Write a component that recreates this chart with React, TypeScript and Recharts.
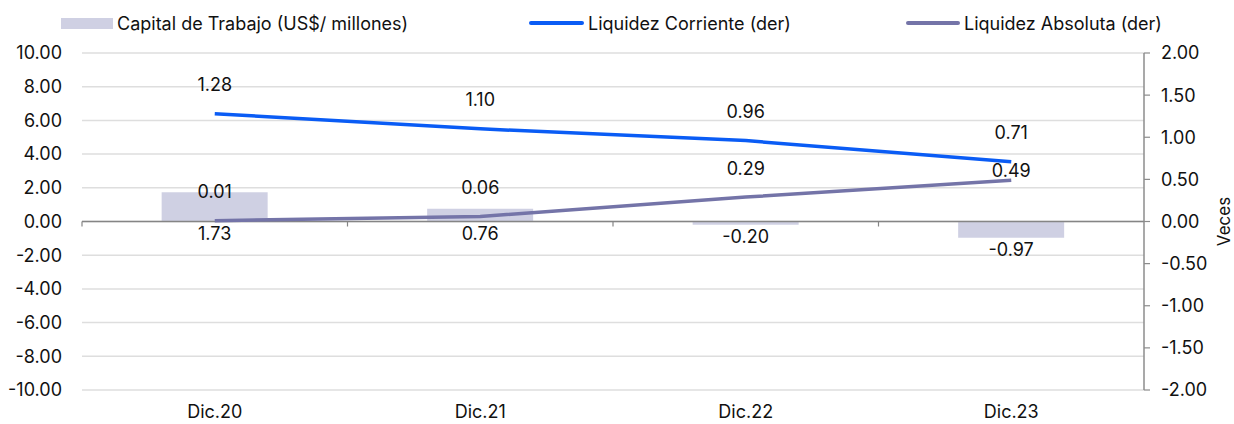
import React from "react";
import {
  ComposedChart,
  Bar,
  Line,
  XAxis,
  YAxis,
  CartesianGrid,
  Legend,
  LabelList,
  ReferenceLine,
} from "recharts";

const categories = ["Dic.20", "Dic.21", "Dic.22", "Dic.23"];
const capitalTrabajo = [1.73, 0.76, -0.2, -0.97];
const liquidezCorriente = [1.28, 1.1, 0.96, 0.71];
const liquidezAbsoluta = [0.01, 0.06, 0.29, 0.49];
const leftTicks = [-10, -8, -6, -4, -2, 0, 2, 4, 6, 8, 10];
const rightTicks = [-2, -1.5, -1, -0.5, 0, 0.5, 1, 1.5, 2];

const FONT = "Inter, 'Liberation Sans', Arial, sans-serif";
const FS = 18;
const BAR_COLOR = "#cfd0e3";
const CORRIENTE_COLOR = "#0a5cf5";
const ABSOLUTA_COLOR = "#7474a8";

const data = categories.map((c, i) => ({
  name: c,
  capital: capitalTrabajo[i],
  corriente: liquidezCorriente[i],
  absoluta: liquidezAbsoluta[i],
}));

const fmt = (v: number) => v.toFixed(2);

function BarValueLabel(props: any) {
  const { x, y, width, height, value } = props;
  const bottom = Math.max(y, y + height);
  return (
    <text
      x={x + width / 2}
      y={bottom + 12}
      textAnchor="middle"
      dominantBaseline="central"
      fontSize={FS}
      fontFamily={FONT}
      fill="#111"
    >
      {fmt(value)}
    </text>
  );
}

function makeLineLabel(special?: (i: number) => number | undefined) {
  return (props: any) => {
    const { x, y, value, index } = props;
    const off = (special && special(index)) ?? 29;
    return (
      <text
        x={x}
        y={y - off}
        textAnchor="middle"
        dominantBaseline="central"
        fontSize={FS}
        fontFamily={FONT}
        fill="#111"
      >
        {fmt(value)}
      </text>
    );
  };
}

function ZeroAxis(props: any) {
  const x1 = props.x1 ?? 0;
  const x2 = props.x2 ?? 0;
  const y = props.y1 ?? 0;
  const step = (x2 - x1) / categories.length;
  const ticks = categories.map((_, i) => x1 + i * step);
  return (
    <g>
      <line x1={x1} y1={y} x2={x2} y2={y} stroke="#858585" strokeWidth={1.5} />
      {ticks.map((tx, i) => (
        <line key={i} x1={tx} y1={y} x2={tx} y2={y + 5} stroke="#858585" strokeWidth={1.2} />
      ))}
    </g>
  );
}

function LegendContent() {
  const item = (left: number, swatch: React.ReactNode, text: string) => (
    <div
      style={{
        position: "absolute",
        left,
        top: 0,
        display: "flex",
        alignItems: "center",
        height: 20,
        whiteSpace: "nowrap",
      }}
    >
      {swatch}
      <span style={{ marginLeft: 4 }}>{text}</span>
    </div>
  );
  return (
    <div
      style={{
        position: "relative",
        height: 40,
        width: 1234,
        fontFamily: FONT,
        fontSize: FS,
        color: "#111",
      }}
    >
      {item(61, <div style={{ width: 52, height: 11, background: BAR_COLOR }} />, "Capital de Trabajo (US$/ millones)")}
      {item(529, <div style={{ width: 55, height: 4, borderRadius: 2, background: CORRIENTE_COLOR }} />, "Liquidez Corriente (der)")}
      {item(906, <div style={{ width: 54, height: 4, borderRadius: 2, background: ABSOLUTA_COLOR }} />, "Liquidez Absoluta (der)")}
    </div>
  );
}

export default function App() {
  return (
    <div style={{ position: "absolute", left: 0, top: 0, background: "#fff" }}>
      <ComposedChart
        width={1234}
        height={424}
        data={data}
        margin={{ top: 13, right: 0, bottom: 0, left: 0 }}
        barCategoryGap="30%"
      >
        <Legend
          verticalAlign="top"
          align="left"
          content={<LegendContent />}
          wrapperStyle={{ left: 0, top: 13, width: 1234 }}
        />
        <CartesianGrid
          yAxisId="left"
          vertical={false}
          stroke="#dedede"
          strokeWidth={1.5}
        />
        <XAxis
          dataKey="name"
          axisLine={false}
          tickLine={false}
          tickSize={0}
          tickMargin={15}
          height={34}
          tick={{ fontSize: FS, fontFamily: FONT, fill: "#111" }}
        />
        <YAxis
          yAxisId="left"
          orientation="left"
          width={82}
          domain={[-10, 10]}
          ticks={leftTicks}
          interval={0}
          axisLine={false}
          tickLine={false}
          tickSize={0}
          tickMargin={20}
          tickFormatter={fmt}
          tick={{ fontSize: FS, fontFamily: FONT, fill: "#111" }}
        />
        <YAxis
          yAxisId="right"
          orientation="right"
          width={90}
          domain={[-2, 2]}
          ticks={rightTicks}
          interval={0}
          axisLine={{ stroke: "#8c8c8c", strokeWidth: 1.5 }}
          tickLine={{ stroke: "#8c8c8c", strokeWidth: 1.2 }}
          tickSize={6}
          tickMargin={11}
          tickFormatter={fmt}
          tick={{ fontSize: FS, fontFamily: FONT, fill: "#111" }}
          label={{
            content: (p: any) => {
              const vb = p.viewBox || {};
              const cx = 1224;
              const cy = (vb.y ?? 53) + (vb.height ?? 337) / 2;
              return (
                <text
                  x={cx}
                  y={cy}
                  transform={`rotate(-90 ${cx} ${cy})`}
                  textAnchor="middle"
                  dominantBaseline="central"
                  fontSize={17}
                  fontFamily={FONT}
                  fill="#111"
                >
                  Veces
                </text>
              );
            },
          }}
        />
        <Bar
          yAxisId="left"
          dataKey="capital"
          fill={BAR_COLOR}
          isAnimationActive={false}
        >
          <LabelList dataKey="capital" content={BarValueLabel} />
        </Bar>
        <ReferenceLine yAxisId="left" y={0} shape={ZeroAxis} />
        <Line
          yAxisId="right"
          dataKey="corriente"
          stroke={CORRIENTE_COLOR}
          strokeWidth={3.5}
          dot={false}
          isAnimationActive={false}
        >
          <LabelList dataKey="corriente" content={makeLineLabel()} />
        </Line>
        <Line
          yAxisId="right"
          dataKey="absoluta"
          stroke={ABSOLUTA_COLOR}
          strokeWidth={3.5}
          dot={false}
          isAnimationActive={false}
        >
          <LabelList
            dataKey="absoluta"
            content={makeLineLabel((i) => (i === 3 ? 10 : undefined))}
          />
        </Line>
      </ComposedChart>
    </div>
  );
}
